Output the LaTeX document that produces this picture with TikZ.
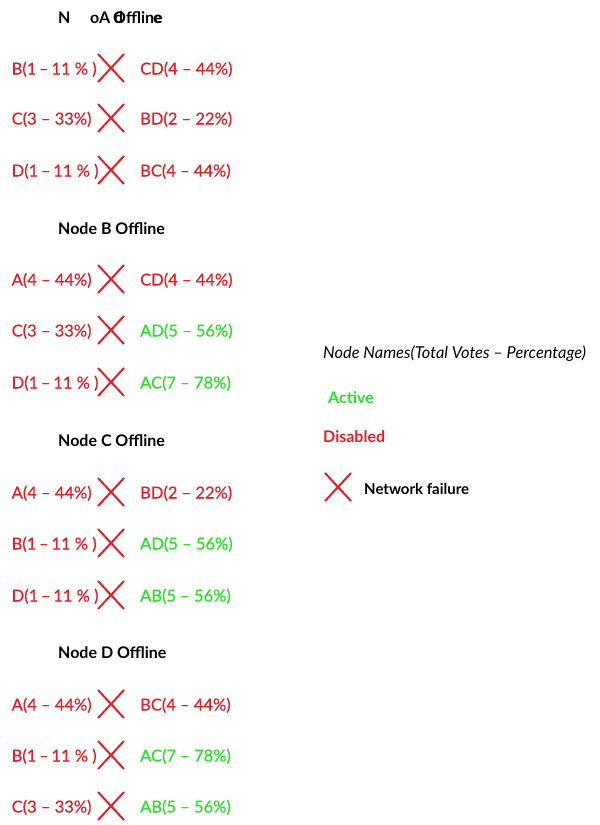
\documentclass[tikz,border=0pt]{standalone}
\usepackage{fontspec}
\setmainfont{Lato}
\newfontfamily\rowfont{Lato}[FakeBold=0.4]
\definecolor{myred}{RGB}{228,30,36}
\definecolor{mygreen}{RGB}{40,225,40}
\tikzset{
  rowtxt/.style={anchor=base west, inner sep=0pt, font=\rowfont\fontsize{16.5}{19}\selectfont},
  ttl/.style={anchor=base west, inner sep=0pt, font=\bfseries\fontsize{16}{19}\selectfont},
  xmark/.pic={\draw[myred, line width=2pt] (-13,-14) -- (13,14) (-13,14) -- (13,-14);}
}
\newcommand\myrow[5]{%
  \node[rowtxt, text=myred] (#1l) at (11.5,#2+6.5) {#3};
  \pic at (111,#2) {xmark};
  \node[rowtxt, text=#4] (#1r) at (140,#2+6.5) {#5};
}
\begin{document}
\begin{tikzpicture}[x=1pt, y=-1pt]
\useasboundingbox (0,0) rectangle (600,825);
% Section A (garbled title as printed)
\node[ttl] (tA1) at (58,23) {N};
\node[ttl] (tA2) at (90,23) {oA};
\node[ttl] (tA3) at (113,23) {Offline};
\node[ttl] (tA4) at (114,23) {d};
\node[ttl] (tA5) at (153,23) {e};
\myrow{a1}{68}{B(1\,–\,11 \% )}{myred}{CD(4 – 44\%)}
\myrow{a2}{118}{C(3 – 33\%)}{myred}{BD(2 – 22\%)}
\myrow{a3}{170}{D(1\,–\,11 \% )}{myred}{BC(4 – 44\%)}
% Section B
\node[ttl] (tB) at (58,234) {Node B Offline};
\myrow{b1}{279}{A(4 – 44\%)}{myred}{CD(4 – 44\%)}
\myrow{b2}{330}{C(3 – 33\%)}{mygreen}{AD(5 – 56\%)}
\myrow{b3}{382}{D(1\,–\,11 \% )}{mygreen}{AC(7 – 78\%)}
% Section C
\node[ttl] (tC) at (58,446) {Node C Offline};
\myrow{c1}{492}{A(4 – 44\%)}{myred}{BD(2 – 22\%)}
\myrow{c2}{543}{B(1\,–\,11 \% )}{mygreen}{AD(5 – 56\%)}
\myrow{c3}{595}{D(1\,–\,11 \% )}{mygreen}{AB(5 – 56\%)}
% Section D
\node[ttl] (tD) at (58,658) {Node D Offline};
\myrow{d1}{704}{A(4 – 44\%)}{myred}{BC(4 – 44\%)}
\myrow{d2}{755}{B(1\,–\,11 \% )}{mygreen}{AC(7 – 78\%)}
\myrow{d3}{806}{C(3 – 33\%)}{mygreen}{AB(5 – 56\%)}
% Legend
\node[anchor=base west, inner sep=0pt, font=\itshape\fontsize{16.4}{19}\selectfont] (leg) at (323,358) {Node Names(Total Votes – Percentage)};
\node[ttl, text=mygreen] (act) at (328,403) {Active};
\node[ttl, text=myred] (dis) at (323,442) {Disabled};
\pic at (338,487) {xmark};
\node[ttl, font=\bfseries\fontsize{15}{18}\selectfont] (nf) at (364,494) {Network failure};
\end{tikzpicture}
\end{document}
